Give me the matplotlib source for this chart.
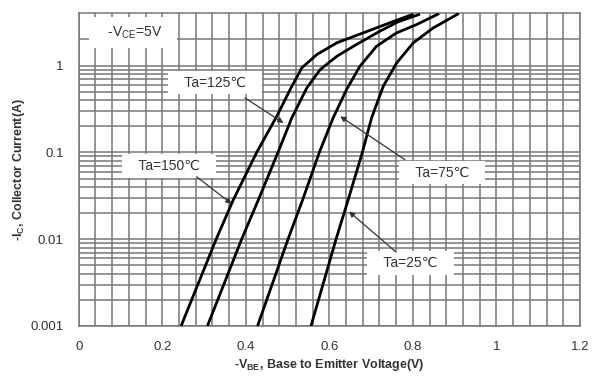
import matplotlib
matplotlib.use('Agg')
import matplotlib.pyplot as plt
from matplotlib.ticker import FixedLocator, NullFormatter

plt.rcParams['font.family'] = ['Liberation Sans', 'DejaVu Sans']
plt.rcParams['mathtext.fontset'] = 'custom'
plt.rcParams['mathtext.rm'] = 'Liberation Sans'
plt.rcParams['mathtext.bf'] = 'Liberation Sans:bold'

# -VBE (V) vs -IC (A) for each ambient temperature
vbe_150 = [0.245, 0.329, 0.370, 0.426, 0.474, 0.506, 0.534, 0.570, 0.618, 0.681, 0.745, 0.801]
ic_150 = [0.001, 0.01, 0.0284, 0.1, 0.260, 0.528, 0.941, 1.34, 1.83, 2.38, 3.11, 3.91]

vbe_125 = [0.308, 0.390, 0.430, 0.477, 0.510, 0.546, 0.578, 0.618, 0.665, 0.721, 0.765, 0.817]
ic_125 = [0.001, 0.01, 0.0284, 0.1, 0.249, 0.553, 0.899, 1.28, 1.75, 2.49, 3.2, 3.91]

vbe_75 = [0.428, 0.501, 0.536, 0.576, 0.609, 0.641, 0.673, 0.713, 0.761, 0.809, 0.863]
ic_75 = [0.001, 0.01, 0.0284, 0.1, 0.249, 0.528, 0.98, 1.67, 2.38, 2.97, 3.98]

vbe_25 = [0.556, 0.616, 0.645, 0.679, 0.701, 0.729, 0.761, 0.801, 0.849, 0.910]
ic_25 = [0.001, 0.01, 0.0284, 0.1, 0.249, 0.577, 1.07, 1.83, 2.72, 3.98]

curves = [(vbe_150, ic_150), (vbe_125, ic_125), (vbe_75, ic_75), (vbe_25, ic_25)]

# label text, text position, arrow tail, arrow tip
labels = ['   Ta=125℃   ', '   Ta=150℃   ', '   Ta=75℃   ', '   Ta=25℃   ']
label_xy = [(0.326, 0.637), (0.216, 0.0702), (0.870, 0.0587), (0.795, 0.00533)]
arrow_from = [(0.398, 0.424), (0.282, 0.0524), (0.781, 0.0823), (0.760, 0.00708)]
arrow_to = [(0.490, 0.218), (0.366, 0.0256), (0.626, 0.26), (0.647, 0.0208)]

x_major = [0, 0.2, 0.4, 0.6, 0.8, 1.0, 1.2]
x_major_labels = ['0', '0.2', '0.4', '0.6', '0.8', '1', '1.2']
y_major = [0.001, 0.01, 0.1, 1]
y_major_labels = ['0.001', '0.01', '0.1', '1']

fig = plt.figure(figsize=(6.06, 3.78), dpi=100)
ax = fig.add_axes([0.13, 0.1376, 0.827, 0.8272])

ax.set_yscale('log')
ax.set_xlim(0, 1.2)
ax.set_ylim(0.001, 4.0)

ax.set_xticks(x_major)
ax.set_xticklabels(x_major_labels)
ax.xaxis.set_minor_locator(FixedLocator([i * 0.04 for i in range(31)]))
ax.set_yticks(y_major)
ax.set_yticklabels(y_major_labels)
minors = [k * 10.0 ** e for e in (-3, -2, -1) for k in range(2, 10)] + [2]
ax.yaxis.set_minor_locator(FixedLocator(minors))
ax.yaxis.set_minor_formatter(NullFormatter())

ax.tick_params(which='both', length=0, labelsize=9.5, colors='#333333')
ax.tick_params(axis='y', pad=11)
ax.tick_params(axis='x', pad=11)

gc = '#777777'
ax.grid(True, which='both', color=gc, linewidth=1.1)
ax.set_axisbelow(True)
for s in ax.spines.values():
    s.set_color(gc)
    s.set_linewidth(1.1)

for v, i in curves:
    ax.plot(v, i, color='black', linewidth=2.0, solid_capstyle='butt',
            solid_joinstyle='round', zorder=3)

box = dict(boxstyle='square,pad=0.35', facecolor='white', edgecolor='none')
for txt, xy, p0, p1 in zip(labels, label_xy, arrow_from, arrow_to):
    ax.text(xy[0], xy[1], txt, ha='center', va='center', fontsize=10,
            color='#333333', bbox=box, zorder=4)
    ax.annotate('', xy=p1, xytext=p0, zorder=5,
                arrowprops=dict(arrowstyle='-|>', color='#333333', lw=0.9,
                                mutation_scale=8, shrinkA=0, shrinkB=0))

ax.text(0.130, 2.40, r'   -V$_\mathrm{CE}$=5V   ', ha='center', va='center',
        fontsize=10, color='#333333',
        bbox=dict(boxstyle='square,pad=0.5', facecolor='white', edgecolor='none'), zorder=4)

ax.set_xlabel(r'-V$_\mathbf{BE}$, Base to Emitter Voltage(V)', fontsize=9,
              fontweight='bold', color='#333333', labelpad=3)
ax.set_ylabel(r'-I$_\mathbf{C}$, Collector Current(A)', fontsize=9,
              fontweight='bold', color='#333333', labelpad=2)

fig.savefig('out.png', dpi=100)
